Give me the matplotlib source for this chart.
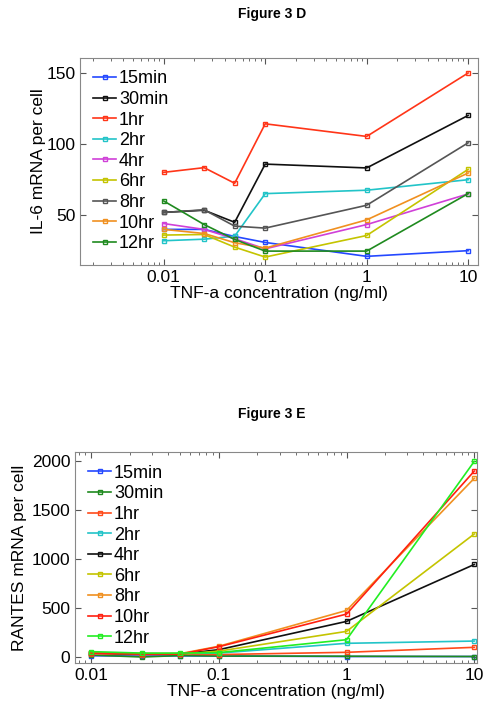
import matplotlib
matplotlib.use("Agg")
import matplotlib.pyplot as plt
from matplotlib.ticker import LogLocator, NullFormatter, FixedLocator

# concentrations (ng/ml)
conc = [0.01, 0.025, 0.05, 0.1, 1, 10]

# Figure 3 D: IL-6 mRNA per cell
il6_labels = ["15min", "30min", "1hr", "2hr", "4hr", "6hr", "8hr", "10hr", "12hr"]
il6_colors = ["#2448ff", "#101010", "#ff3518", "#22c4c8", "#d040d8",
              "#c4c400", "#555555", "#f09020", "#1f8a1f"]
il6_15min = [40, 40, 35, 30.8, 21, 25]
il6_30min = [52, 53.5, 45, 86, 83.3, 120.3]
il6_1hr = [80.2, 83.5, 72.5, 114.4, 105.5, 150.2]
il6_2hr = [32, 33.1, 35.2, 65.2, 67.6, 75]
il6_4hr = [44.1, 40, 33.4, 26.3, 43.4, 65]
il6_6hr = [36, 36.4, 27.5, 20.5, 35.7, 82.3]
il6_8hr = [51.9, 53.8, 42.3, 40.9, 57, 101]
il6_10hr = [40, 37.1, 30.6, 26.8, 46.7, 79.7]
il6_12hr = [60, 43.4, 32.9, 24.7, 24.7, 65.2]
il6_series = [il6_15min, il6_30min, il6_1hr, il6_2hr, il6_4hr,
              il6_6hr, il6_8hr, il6_10hr, il6_12hr]

# Figure 3 E: RANTES mRNA per cell
rantes_labels = ["15min", "30min", "1hr", "2hr", "4hr", "6hr", "8hr", "10hr", "12hr"]
rantes_colors = ["#2448ff", "#1f8a1f", "#ff4a1a", "#22c4c8", "#101010",
                 "#c4c400", "#f09020", "#ff2010", "#22ee22"]
rantes_15min = [13, 10, 12, 10, 5, 5]
rantes_30min = [20, 0, 15, 10, 8, 5]
rantes_1hr = [35, 25, 30, 25, 48, 99]
rantes_2hr = [45, 30, 35, 40, 140, 163]
rantes_4hr = [40, 30, 30, 75, 364, 946]
rantes_6hr = [40, 35, 30, 60, 262, 1258]
rantes_8hr = [45, 35, 35, 110, 476, 1827]
rantes_10hr = [40, 30, 30, 105, 439, 1901]
rantes_12hr = [55, 40, 40, 45, 177, 2000]
rantes_series = [rantes_15min, rantes_30min, rantes_1hr, rantes_2hr, rantes_4hr,
                 rantes_6hr, rantes_8hr, rantes_10hr, rantes_12hr]

plt.rcParams['font.family'] = ['Liberation Sans', 'DejaVu Sans']

fig = plt.figure(figsize=(5.01, 7.12), dpi=100)


def style_axes(ax):
    ax.set_xscale("log")
    ax.xaxis.set_major_locator(FixedLocator([0.01, 0.1, 1, 10]))
    ax.set_xticklabels(["0.01", "0.1", "1", "10"])
    ax.xaxis.set_minor_locator(LogLocator(base=10, subs=range(2, 10), numticks=20))
    ax.xaxis.set_minor_formatter(NullFormatter())
    ax.tick_params(which="both", direction="in", top=True, right=True,
                   colors="#555555", labelcolor="black", labelsize=12.5)
    ax.tick_params(which="major", length=4)
    ax.tick_params(which="minor", length=2)
    for s in ax.spines.values():
        s.set_color("#888888")
        s.set_linewidth(0.8)
    ax.set_xlabel("TNF-a concentration (ng/ml)", fontsize=12.5, labelpad=1)


def draw(ax, series, labels, colors):
    for vals, lab, col in zip(series, labels, colors):
        ax.plot(conc, vals, color=col, lw=1.2, marker="s", markersize=3.5,
                markerfacecolor="none", markeredgewidth=1.0, label=lab)
    ax.legend(loc="upper left", frameon=False, fontsize=13, handlelength=1.3,
              handletextpad=0.15, labelspacing=0.2, borderaxespad=0.5,
              borderpad=0.2, markerscale=0.9)


# top panel
ax1 = fig.add_axes([0.160, 0.628, 0.794, 0.291])
draw(ax1, il6_series, il6_labels, il6_colors)
style_axes(ax1)
ax1.set_xlim(0.0015, 12.5)
ax1.set_ylim(15, 161)
ax1.set_yticks([50, 100, 150])
ax1.set_ylabel("IL-6 mRNA per cell", fontsize=12.5, labelpad=0)
fig.text(0.543, 0.981, "Figure 3 D", ha="center", va="center",
         fontsize=10, fontweight="bold")

# bottom panel
ax2 = fig.add_axes([0.150, 0.069, 0.802, 0.296])
draw(ax2, rantes_series, rantes_labels, rantes_colors)
style_axes(ax2)
ax2.set_xlim(0.0075, 10.5)
ax2.set_ylim(-60, 2095)
ax2.set_yticks([0, 500, 1000, 1500, 2000])
ax2.set_ylabel("RANTES mRNA per cell", fontsize=12.5, labelpad=3)
fig.text(0.543, 0.419, "Figure 3 E", ha="center", va="center",
         fontsize=10, fontweight="bold")

fig.savefig("out.png", dpi=100)
